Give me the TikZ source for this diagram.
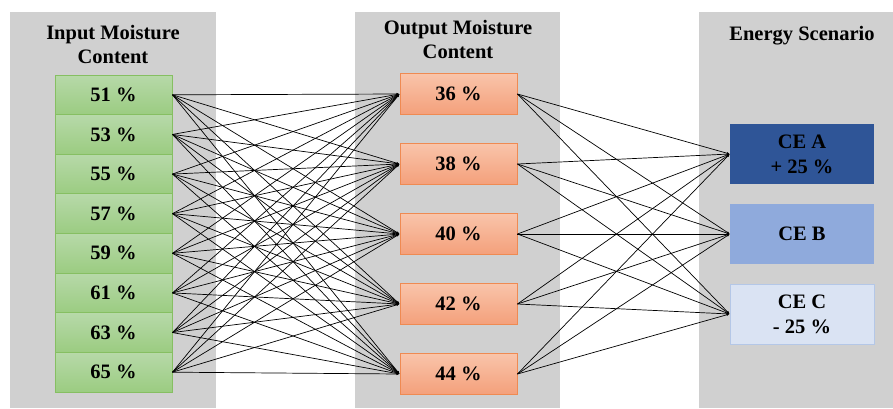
\documentclass[tikz,border=0pt]{standalone}
\usepackage{fontspec}
\setmainfont{Liberation Serif}
\usetikzlibrary{arrows.meta}

\definecolor{panelgrey}{HTML}{D0D0D0}
\definecolor{greentop}{HTML}{B7D9A9}
\definecolor{greenbot}{HTML}{9BCC81}
\definecolor{greenline}{HTML}{86BF62}
\definecolor{orangetop}{HTML}{F9C4AA}
\definecolor{orangebot}{HTML}{F4A07B}
\definecolor{orangeline}{HTML}{EF8A52}
\definecolor{cea}{HTML}{2F5597}
\definecolor{ceb}{HTML}{8FAADC}
\definecolor{cec}{HTML}{DAE3F3}
\definecolor{cecline}{HTML}{B4C7E7}

\begin{document}
\begin{tikzpicture}[x=1pt,y=-1pt,
  panel/.style={fill=panelgrey,draw=none},
  title/.style={anchor=base,inner sep=0pt,font=\bfseries\fontsize{20.5}{24}\selectfont},
  inbox/.style={draw=greenline,line width=0.9pt,top color=greentop,bottom color=greenbot,
    minimum width=117pt,minimum height=39.6pt,inner sep=0pt,
    font=\bfseries\fontsize{20.5}{24}\selectfont},
  outbox/.style={draw=orangeline,line width=0.9pt,top color=orangetop,bottom color=orangebot,
    minimum width=117pt,minimum height=41pt,inner sep=0pt,
    font=\bfseries\fontsize{20.5}{24}\selectfont},
  cebox/.style={minimum width=144pt,minimum height=60pt,inner sep=0pt,align=center,
    font=\bfseries\fontsize{20.5}{25}\selectfont},
  link/.style={draw=black,line width=0.7pt,-{Latex[length=3pt,width=2.4pt]}}
]
\useasboundingbox (0,0) rectangle (893,408);

% grey column panels
\fill[panel] (10,12) rectangle (216,408);
\fill[panel] (355,12) rectangle (560,408);
\fill[panel] (699,12) rectangle (893,408);

% column headings
\node[title] (t1a) at (113,39) {Input Moisture};
\node[title] (t1b) at (113,63) {Content};
\node[title] (t2a) at (458,34) {Output Moisture};
\node[title] (t2b) at (458,58) {Content};
\node[title] (t3)  at (802,40) {Energy Scenario};

% input moisture boxes
\foreach \v [count=\i] in {51,53,...,65}
  \node[inbox] (in\i) at (113.5,{94.8+(\i-1)*39.625}) {\v{} \%};

% output moisture boxes
\foreach \v [count=\j] in {36,38,...,44}
  \node[outbox] (out\j) at (458.5,{94+(\j-1)*70}) {\v{} \%};

% energy scenario boxes
\node[cebox,fill=cea] (ceA) at (802,154) {CE A\\+ 25 \%};
\node[cebox,fill=ceb] (ceB) at (802,234) {CE B};
\node[cebox,fill=cec,draw=cecline,line width=0.9pt] (ceC) at (802,314) {CE C\\- 25 \%};

% every input to every output
\foreach \i in {1,...,8}
  \foreach \j in {1,...,5}
    \draw[link] (in\i.east) -- (out\j.west);

% every output to every energy scenario
\foreach \j in {1,...,5}
  \foreach \k in {A,B,C}
    \draw[link] (out\j.east) -- (ce\k.west);
\end{tikzpicture}
\end{document}
